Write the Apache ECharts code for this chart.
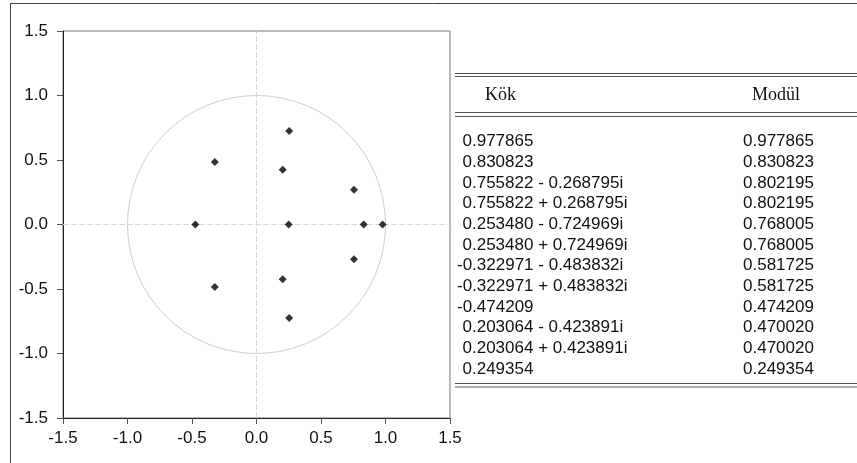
<!DOCTYPE html>
<html>
<head>
<meta charset="utf-8">
<script src="https://cdn.jsdelivr.net/npm/echarts@6/dist/echarts.min.js"></script>
<style>
  html, body { margin: 0; padding: 0; background: #fff; }
  #chart { width: 857px; height: 463px; }
</style>
</head>
<body>
<div id="chart"></div>
<script>
    'use strict'

    /* Roots: real part, imaginary part, modulus (as in table) */
    var rootRe = [0.977865, 0.830823, 0.755822, 0.755822, 0.253480, 0.253480, -0.322971, -0.322971, -0.474209, 0.203064, 0.203064, 0.249354];
    var rootIm = [0, 0, -0.268795, 0.268795, -0.724969, 0.724969, -0.483832, 0.483832, 0, -0.423891, 0.423891, 0];
    var modulus = ['0.977865', '0.830823', '0.802195', '0.802195', '0.768005', '0.768005', '0.581725', '0.581725', '0.474209', '0.470020', '0.470020', '0.249354'];
    var headers = ['Kök', 'Modül'];
    var axisTicks = [-1.5, -1.0, -0.5, 0.0, 0.5, 1.0, 1.5];

    var points = rootRe.map(function (re, i) { return [re, rootIm[i]]; });

    function rootLabel(i) {
        var re = rootRe[i], im = rootIm[i];
        var s = (re < 0 ? '-' : '') + Math.abs(re).toFixed(6);
        if (im !== 0) {
            s += (im < 0 ? ' - ' : ' + ') + Math.abs(im).toFixed(6) + 'i';
        }
        return s;
    }

    var sansFont = 'Arial, "Liberation Sans", sans-serif';
    var serifFont = '"Times New Roman", "Liberation Serif", serif';

    /* Frame and table graphics */
    var graphics = [
        { type: 'line', shape: { x1: 10, y1: 3.5, x2: 857, y2: 3.5 }, style: { stroke: '#444', lineWidth: 1 } },
        { type: 'line', shape: { x1: 10.5, y1: 3, x2: 10.5, y2: 463 }, style: { stroke: '#444', lineWidth: 1 } }
    ];
    [73.5, 76.5, 112.5, 116.5, 383.5, 387].forEach(function (y) {
        graphics.push({ type: 'line', shape: { x1: 455, y1: y, x2: 857, y2: y }, style: { stroke: '#555', lineWidth: 1.2 } });
    });
    graphics.push({ type: 'text', x: 485, y: 95, style: { text: headers[0], font: '18px ' + serifFont, fill: '#111', verticalAlign: 'middle' } });
    graphics.push({ type: 'text', x: 752, y: 95, style: { text: headers[1], font: '18px ' + serifFont, fill: '#111', verticalAlign: 'middle' } });

    var rowStart = 141.7, rowStep = 20.66;
    rootRe.forEach(function (re, i) {
        var y = rowStart + i * rowStep;
        graphics.push({ type: 'text', x: re < 0 ? 457 : 462.5, y: y, style: { text: rootLabel(i), font: '17px ' + sansFont, fill: '#111', verticalAlign: 'middle' } });
        graphics.push({ type: 'text', x: 743, y: y, style: { text: modulus[i], font: '17px ' + sansFont, fill: '#111', verticalAlign: 'middle' } });
    });

    var chart = echarts.init(document.getElementById('chart'), null, { renderer: 'canvas' });

    var axisCommon = {
        type: 'value',
        min: axisTicks[0],
        max: axisTicks[axisTicks.length - 1],
        interval: 0.5,
        axisLine: { show: true, onZero: false, lineStyle: { color: '#222', width: 1 } },
        axisTick: { show: true, inside: false, length: 6, lineStyle: { color: '#555' } },
        splitLine: { show: false },
        axisLabel: {
            color: '#111',
            fontSize: 17,
            fontFamily: sansFont,
            formatter: function (v) { return v.toFixed(1); }
        }
    };

    chart.setOption({
        animation: false,
        backgroundColor: '#fff',
        grid: {
            left: 63, top: 31, width: 387, height: 387,
            show: true, borderColor: '#777', borderWidth: 1, backgroundColor: 'transparent'
        },
        xAxis: Object.assign({}, axisCommon, {
            axisLabel: Object.assign({}, axisCommon.axisLabel, { margin: 12, showMinLabel: true, showMaxLabel: true })
        }),
        yAxis: Object.assign({}, axisCommon, {
            axisLabel: Object.assign({}, axisCommon.axisLabel, { margin: 15, showMinLabel: true, showMaxLabel: true })
        }),
        series: [
            {
                /* unit circle and zero lines */
                type: 'custom',
                silent: true,
                data: [[0, 0, 1]],
                renderItem: function (params, api) {
                    var c = api.coord([api.value(0), api.value(1)]);
                    var r = api.size([api.value(2), api.value(2)])[0];
                    return {
                        type: 'circle',
                        shape: { cx: c[0], cy: c[1], r: r },
                        style: { fill: 'none', stroke: '#cfcfcf', lineWidth: 1 }
                    };
                },
                markLine: {
                    silent: true,
                    symbol: 'none',
                    label: { show: false },
                    lineStyle: { color: '#d8d8d8', type: [6, 2], width: 1 },
                    data: [{ xAxis: 0 }, { yAxis: 0 }]
                },
                z: 1
            },
            {
                type: 'scatter',
                data: points,
                symbol: 'diamond',
                symbolSize: 8,
                itemStyle: { color: '#000' },
                z: 5
            }
        ],
        graphic: graphics
    });
</script>
</body>
</html>
